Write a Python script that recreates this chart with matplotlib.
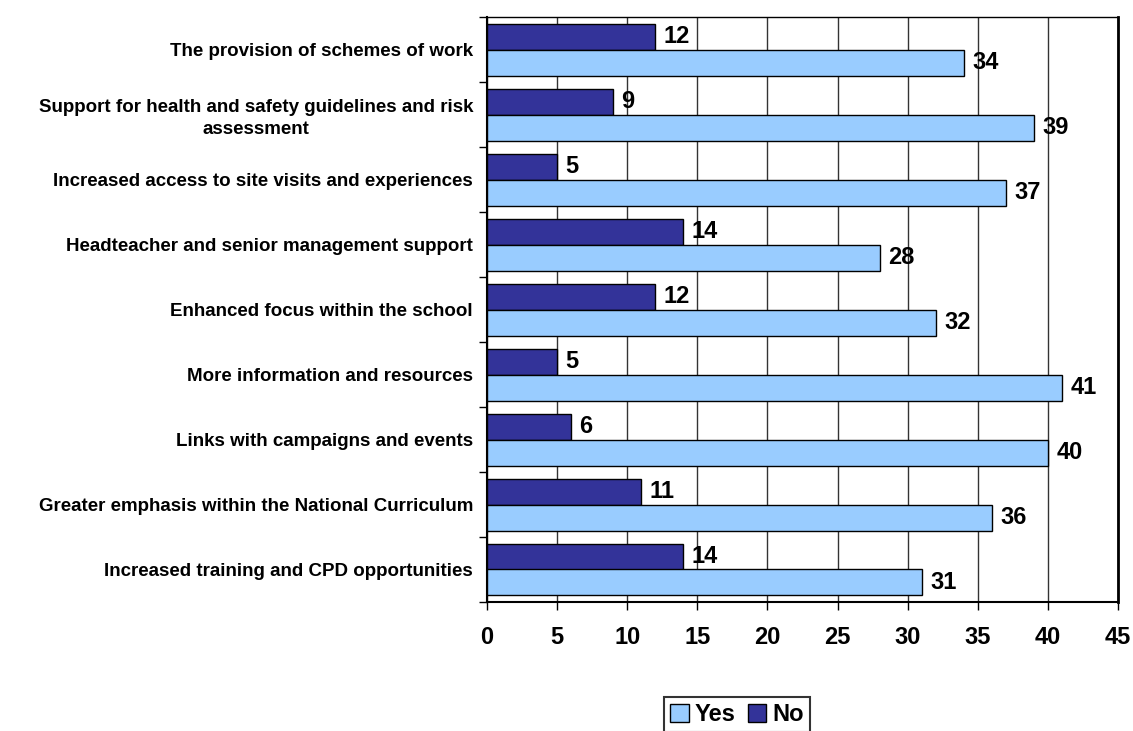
import numpy as np
import matplotlib
matplotlib.use('Agg')
import matplotlib.pyplot as plt
from matplotlib.patches import Patch

categories = ['The provision of schemes of work',
              'Support for health and safety guidelines and risk\nassessment',
              'Increased access to site visits and experiences',
              'Headteacher and senior management support',
              'Enhanced focus within the school',
              'More information and resources',
              'Links with campaigns and events',
              'Greater emphasis within the National Curriculum',
              'Increased training and CPD opportunities']
yes_vals = [34, 39, 37, 28, 32, 41, 40, 36, 31]
no_vals = [12, 9, 5, 14, 12, 5, 6, 11, 14]
x_ticks = [0, 5, 10, 15, 20, 25, 30, 35, 40, 45]

yes_color = '#99CCFF'
no_color = '#333399'
narrow = ['Liberation Sans Narrow', 'Liberation Sans', 'DejaVu Sans']

fig = plt.figure(figsize=(11.33, 7.31), dpi=100)
ax = fig.add_axes([487/1133, 1 - 602/731, (1118 - 487)/1133, (602 - 17)/731])

y = np.arange(len(categories))
h = 0.4
ax.barh(y - h/2, no_vals, height=h, color=no_color, edgecolor='black', linewidth=1, zorder=3)
ax.barh(y + h/2, yes_vals, height=h, color=yes_color, edgecolor='black', linewidth=1, zorder=3)

# value labels
for i in range(len(categories)):
    ax.annotate(str(no_vals[i]), (no_vals[i], y[i] - h/2), xytext=(6, 0), textcoords='offset points',
                va='center', ha='left', fontsize=17, fontweight='bold', family=narrow, zorder=4)
    ax.annotate(str(yes_vals[i]), (yes_vals[i], y[i] + h/2), xytext=(6, 0), textcoords='offset points',
                va='center', ha='left', fontsize=17, fontweight='bold', family=narrow, zorder=4)

ax.set_xlim(0, 45)
ax.set_ylim(len(categories) - 0.5, -0.5)
ax.set_xticks(x_ticks)
ax.set_xticklabels([str(t) for t in x_ticks], fontsize=17, fontweight='bold', family=narrow)
ax.tick_params(axis='x', direction='out', length=6, width=1, pad=11)

ax.set_yticks(y)
ax.set_yticklabels(categories, fontsize=13.5, fontweight='bold', family=['Liberation Sans', 'DejaVu Sans'],
                   multialignment='center', linespacing=1.35)
ax.set_yticks(np.arange(len(categories) + 1) - 0.5, minor=True)
ax.tick_params(axis='y', which='major', length=0, pad=10)
ax.tick_params(axis='y', which='minor', direction='out', length=6, width=1)

ax.grid(axis='x', color='#333333', linewidth=1, zorder=0)
for s in ['left', 'bottom']:
    ax.spines[s].set_linewidth(1.5)
ax.spines['right'].set_linewidth(2)
ax.spines['top'].set_linewidth(1)

handles = [Patch(facecolor=yes_color, edgecolor='black', label='Yes'),
           Patch(facecolor=no_color, edgecolor='black', label='No')]
leg = fig.legend(handles=handles, loc='upper center', bbox_to_anchor=(737/1133, 1 - 697/731), ncol=2,
                 frameon=True, fancybox=False, edgecolor='black', handlelength=0.8, handleheight=0.8,
                 handletextpad=0.25, columnspacing=0.5, borderpad=0.25, borderaxespad=0,
                 prop={'family': narrow, 'weight': 'bold', 'size': 17})
leg.get_frame().set_linewidth(1.5)

fig.savefig('out.png', dpi=100)
